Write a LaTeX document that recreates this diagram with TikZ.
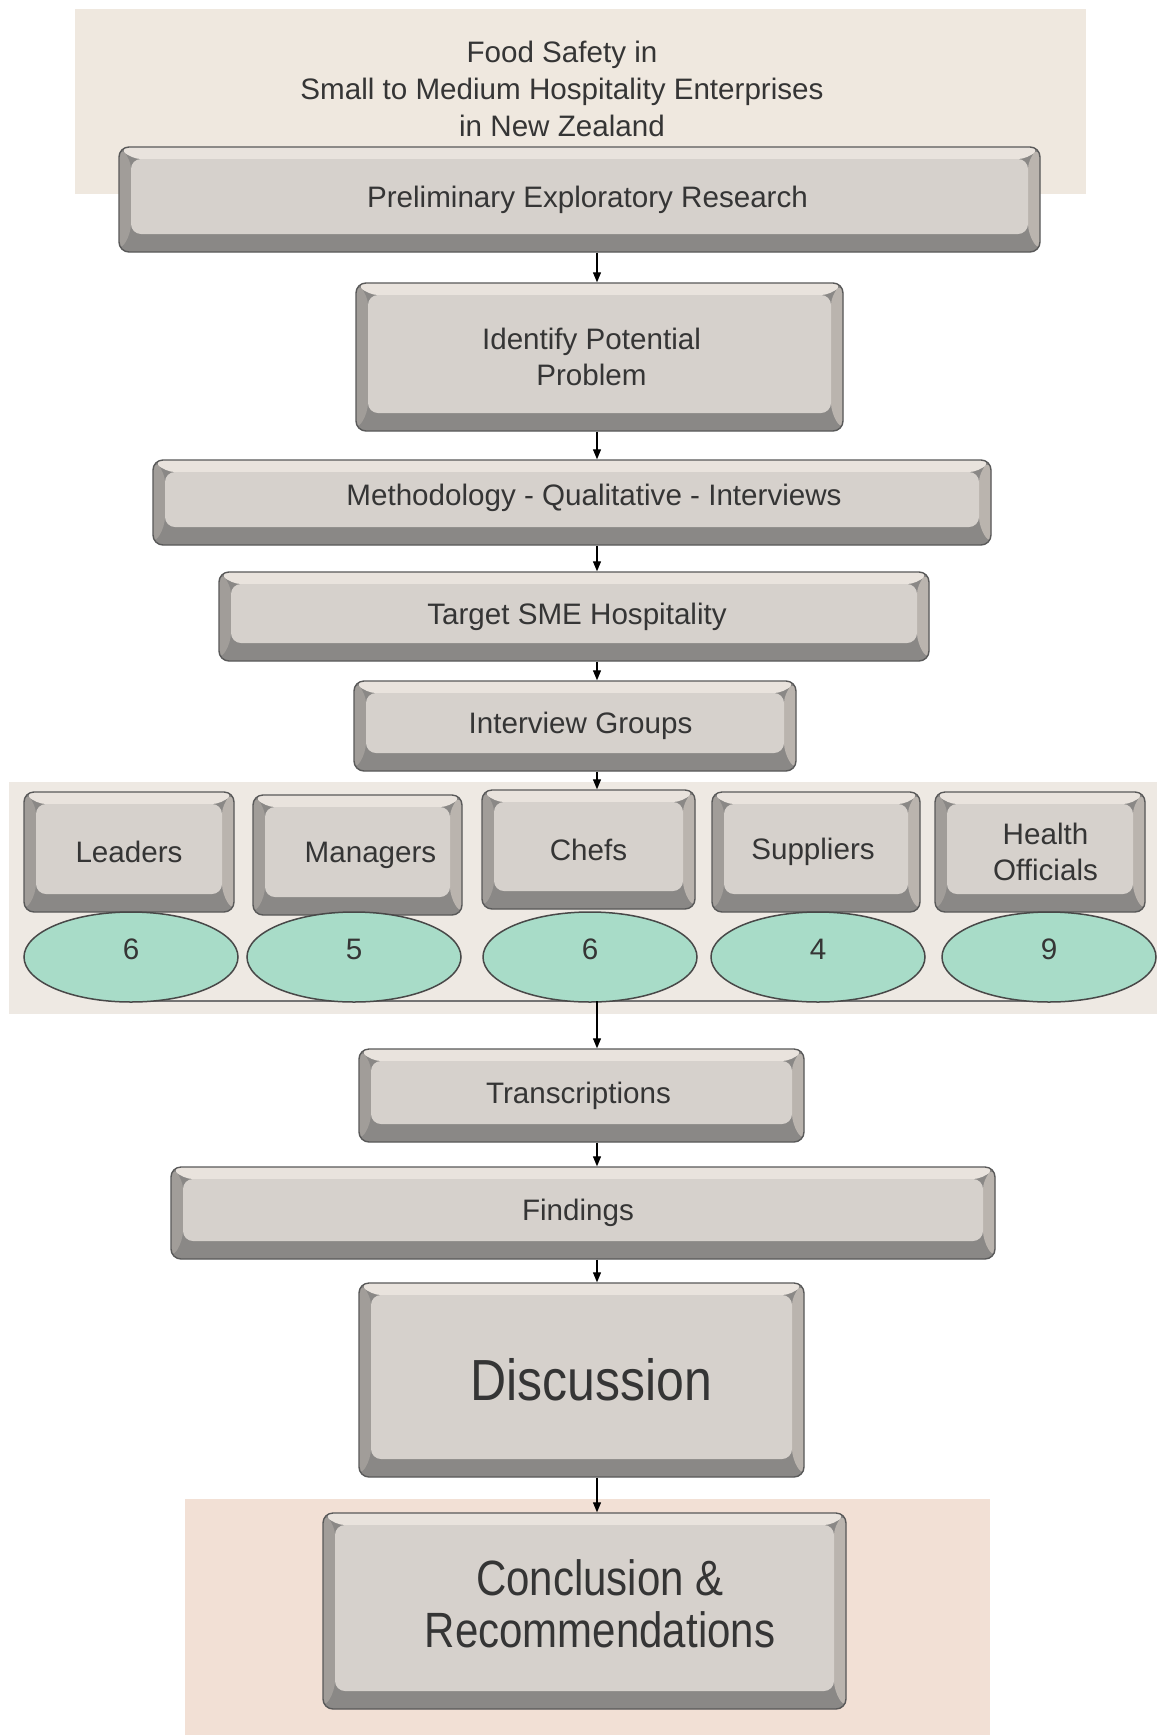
\documentclass[tikz,border=0pt]{standalone}
\usepackage{fontspec}
\setmainfont{Liberation Sans}
\usepackage{graphicx}
\usetikzlibrary{shapes.geometric,arrows.meta,calc}
\definecolor{bandtop}{HTML}{EFE8DF}
\definecolor{bandmid}{HTML}{EEE9E3}
\definecolor{bandbot}{HTML}{F2E0D5}
\definecolor{bface}{HTML}{D6D1CC}
\definecolor{btop}{HTML}{E9E3DD}
\definecolor{bleft}{HTML}{A19D99}
\definecolor{bright}{HTML}{BAB4AE}
\definecolor{bbot}{HTML}{8A8886}
\definecolor{eline}{HTML}{484848}
\definecolor{efill}{HTML}{A8DCC8}
\definecolor{txt}{HTML}{353535}
\newcommand\bvl[6]{\node[bevelbox, minimum width=#4*0.5pt, minimum height=#5*0.5pt] (#1) at (#2,#3) {#6};}
\newcommand\Lsh[1]{\hspace*{#1}}
\tikzset{
  bevelbox/.style={draw=black!65, line width=0.7pt, rounded corners=5pt, fill=bbot,
    inner sep=0pt, align=center, text=txt, font=\fontsize{14.8}{18}\selectfont,
    path picture={
      \fill[btop] let \p1=(path picture bounding box.north west), \p2=(path picture bounding box.south east) in
        (\x1,\y1) -- (\x2,\y1) -- (\x2-6pt,\y1-6pt) -- (\x1+6pt,\y1-6pt) -- cycle;
      \fill[bleft] let \p1=(path picture bounding box.north west), \p2=(path picture bounding box.south east) in
        (\x1,\y1) -- (\x1+6pt,\y1-6pt) -- (\x1+6pt,\y2+9pt) -- (\x1,\y2) -- cycle;
      \fill[bright] let \p1=(path picture bounding box.north west), \p2=(path picture bounding box.south east) in
        (\x2,\y1) -- (\x2-6pt,\y1-6pt) -- (\x2-6pt,\y2+9pt) -- (\x2,\y2) -- cycle;
      \fill[bface] let \p1=(path picture bounding box.north west), \p2=(path picture bounding box.south east) in
        (\x1+6pt,\y1-6pt) rectangle (\x2-6pt,\y2+9pt);
    }},
  countell/.style={ellipse, draw=eline, line width=0.75pt, fill=efill, inner sep=0pt,
    minimum width=107pt, minimum height=45pt, text=txt, font=\fontsize{14.8}{18}\selectfont},
  flow/.style={draw=black, line width=0.6pt, -{Triangle[length=5pt,width=4pt]}},
  titletext/.style={align=center, text=txt, font=\fontsize{14.8}{18.5}\selectfont}
}
\begin{document}
\begin{tikzpicture}[x=0.5pt,y=-0.5pt]
\useasboundingbox[fill=white] (0,0) rectangle (1157,1735);
% background bands
\fill[bandtop] (75,9) rectangle (1086,194);
\fill[bandmid] (9,782) rectangle (1157,1014);
\fill[bandbot] (185,1499) rectangle (990,1735);
\coordinate (ax) at (597,0);
% title
\node[titletext] (title) at (562,89) {Food Safety in\\Small to Medium Hospitality Enterprises\\in New Zealand};
% main boxes
\bvl{b1}{579.5}{199.5}{921}{105}{\Lsh{8pt}Preliminary Exploratory Research}
\bvl{b2}{599.5}{357}{487}{148}{Identify Potential\Lsh{8pt}\\Problem\Lsh{8pt}}
\bvl{b3}{572}{502.5}{838}{85}{\raisebox{8pt}{\Lsh{22pt}Methodology - Qualitative - Interviews}}
\bvl{b4}{574}{616.5}{710}{89}{\Lsh{3pt}Target SME Hospitality}
\bvl{b5}{575}{726}{442}{90}{\Lsh{5.5pt}Interview Groups}
% groups
\bvl{g1}{129}{852}{210}{120}{Leaders}
\bvl{g2}{357.5}{855}{209}{120}{\Lsh{13pt}Managers}
\bvl{g3}{588.5}{849.5}{213}{119}{Chefs}
\bvl{g4}{816}{852}{208}{120}{Suppliers\Lsh{3pt}}
\bvl{g5}{1040}{852}{210}{120}{\Lsh{5.5pt}Health\\\Lsh{5.5pt}Officials}
\coordinate (lineL) at (126,1001);
\coordinate (lineR) at (1058,1001);
\draw[black!55, line width=0.9pt] (lineL) -- (lineR);
\node[countell] (e1) at (131,957) {\raisebox{8pt}{6}};
\node[countell] (e2) at (354,957) {\raisebox{8pt}{5}};
\node[countell] (e3) at (590,957) {\raisebox{8pt}{6}};
\node[countell] (e4) at (818,957) {\raisebox{8pt}{4}};
\node[countell] (e5) at (1049,957) {\raisebox{8pt}{9}};
% lower boxes
\bvl{tr}{581.5}{1095.5}{445}{93}{Transcriptions\Lsh{3pt}}
\bvl{fi}{583}{1213}{824}{92}{Findings\Lsh{5pt}}
\bvl{di}{581.5}{1380}{445}{194}{\Lsh{10pt}\fontsize{25}{27}\selectfont\scalebox{1}[1.16]{Discussion}}
\bvl{co}{584.5}{1611}{523}{196}{\Lsh{15.5pt}\raisebox{14pt}{\fontsize{21}{22}\selectfont\scalebox{1}[1.18]{\renewcommand\arraystretch{1}\begin{tabular}{@{}c@{}}Conclusion \&\\Recommendations\end{tabular}}}}
% arrows
\draw[flow] (b1.south -| ax) -- (b2.north -| ax);
\draw[flow] (b2.south -| ax) -- (b3.north -| ax);
\draw[flow] (b3.south -| ax) -- (b4.north -| ax);
\draw[flow] (b4.south -| ax) -- (b5.north -| ax);
\draw[flow] (b5.south -| ax) -- (g3.north -| ax);
\draw[flow] (lineL -| ax) -- (tr.north -| ax);
\draw[flow] (tr.south -| ax) -- (fi.north -| ax);
\draw[flow] (fi.south -| ax) -- (di.north -| ax);
\draw[flow] (di.south -| ax) -- (co.north -| ax);
\end{tikzpicture}
\end{document}
